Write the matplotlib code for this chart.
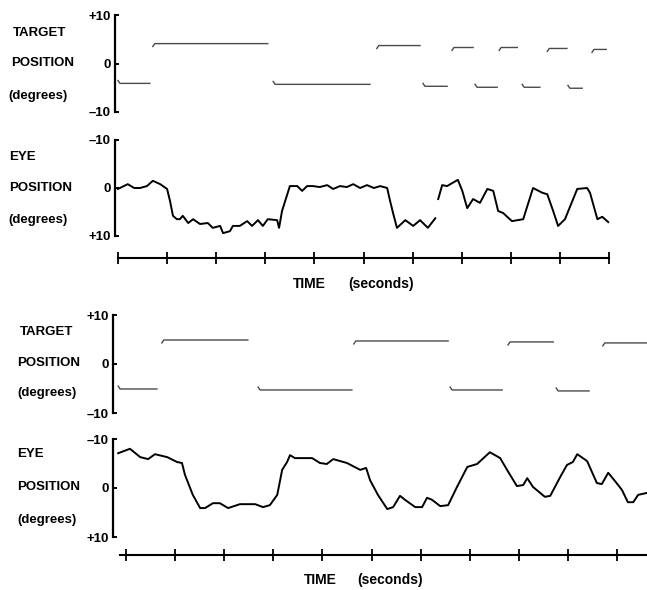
import numpy as np
import matplotlib
matplotlib.use("Agg")
import matplotlib.pyplot as plt

# ---- data (time in seconds, position in degrees) ----
# top record: target steps
tgt1_start = [0.00, 0.71, 3.16, 5.27, 6.21, 6.80, 7.27, 7.76, 8.23, 8.74, 9.16, 9.65]
tgt1_end = [0.65, 3.05, 5.13, 6.15, 6.70, 7.23, 7.72, 8.13, 8.59, 9.14, 9.45, 9.94]
tgt1_level = [-4.1, 4.1, -4.3, 3.7, -4.7, 3.3, -4.9, 3.3, -4.9, 3.1, -5.1, 2.9]

# top record: eye trace (nan = pen gap)
eye1_t = [0.00, 0.04, 0.20, 0.33, 0.45, 0.59, 0.71, 0.86, 1.00, 1.06, 1.12, 1.20, 1.26,
          1.32, 1.43, 1.53, 1.67, 1.83, 1.93, 2.08, 2.14, 2.28, 2.34, 2.48, 2.63, 2.73,
          2.85, 2.95, 3.05, 3.24, 3.28, 3.34, 3.50, 3.65, 3.75, 3.85, 3.97, 4.11, 4.26,
          4.38, 4.52, 4.66, 4.79, 4.93, 5.07, 5.21, 5.34, 5.48, 5.54, 5.60, 5.68, 5.85,
          6.01, 6.15, 6.31, 6.46, 6.49, 6.52, 6.60, 6.70, 6.80, 6.92, 7.01, 7.11, 7.23,
          7.37, 7.52, 7.64, 7.74, 7.84, 8.02, 8.25, 8.45, 8.64, 8.74, 8.86, 8.96, 9.10,
          9.35, 9.55, 9.61, 9.76, 9.86, 9.98]
eye1_deg = [0.2, 0.0, -0.8, 0.0, 0.0, -0.4, -1.5, -0.8, 0.2, 2.7, 5.8, 6.5, 6.5,
            5.8, 7.3, 6.5, 7.5, 7.3, 8.3, 7.9, 9.4, 9.0, 7.9, 7.9, 6.9, 7.9,
            6.7, 7.9, 6.5, 6.7, 8.3, 4.8, -0.4, -0.4, 0.6, -0.4, -0.4, -0.2, -0.6,
            0.2, -0.4, -0.2, -0.8, 0.0, -0.6, 0.0, -0.4, 0.0, 2.7, 5.2, 8.3, 6.7,
            7.9, 6.7, 8.3, 6.3, np.nan, 2.3, -0.6, -0.4, -1.0, -1.7, 0.6, 4.2, 2.3,
            3.1, 0.2, 0.6, 4.8, 5.2, 6.9, 6.5, 0.0, 1.0, 1.3, 4.8, 7.9, 6.5,
            0.2, 0.0, 1.0, 6.5, 6.0, 7.1]

# bottom record: target steps
tgt2_start = [-0.16, 0.73, 2.69, 4.64, 6.60, 7.78, 8.76, 9.71]
tgt2_end = [0.63, 2.48, 4.60, 6.56, 7.66, 8.70, 9.43, 10.61]
tgt2_level = [-5.1, 4.9, -5.3, 4.7, -5.3, 4.5, -5.5, 4.3]

# bottom record: eye trace
eye2_t = [-0.16, 0.08, 0.29, 0.45, 0.59, 0.84, 1.04, 1.14, 1.20, 1.36, 1.51, 1.61, 1.77,
          1.91, 2.08, 2.32, 2.63, 2.79, 2.93, 3.08, 3.18, 3.28, 3.34, 3.44, 3.79, 3.95,
          4.09, 4.22, 4.50, 4.77, 4.89, 4.97, 5.13, 5.32, 5.44, 5.58, 5.68, 5.89, 6.03,
          6.13, 6.23, 6.40, 6.56, 6.74, 6.95, 7.15, 7.41, 7.62, 7.76, 7.96, 8.09, 8.17,
          8.29, 8.53, 8.64, 8.84, 8.98, 9.10, 9.19, 9.39, 9.59, 9.69, 9.82, 9.96, 10.10,
          10.22, 10.33, 10.43, 10.61]
eye2_deg = [-7.1, -8.0, -6.3, -5.9, -6.9, -6.3, -5.3, -5.1, -2.7, 1.4, 4.1, 4.1, 3.1,
            3.1, 4.1, 3.3, 3.3, 3.9, 3.5, 1.4, -3.7, -5.3, -6.7, -6.1, -6.1, -5.1,
            -4.9, -5.9, -5.1, -3.7, -4.1, -1.6, 1.4, 4.3, 3.9, 1.6, 2.4, 3.9, 3.9,
            2.0, 2.4, 3.7, 3.5, -0.2, -4.3, -4.9, -7.3, -6.1, -3.7, -0.4, -0.6, -2.0,
            -0.2, 1.8, 1.6, -2.2, -4.7, -5.3, -6.9, -5.5, -1.0, -0.8, -3.1, -1.4, 0.4,
            2.9, 2.9, 1.4, 1.0]

time_ticks = list(range(11))

# ---- figure, laid out in pixels of the 647x590 original ----
W, H = 647, 590
fig = plt.figure(figsize=(W / 100, H / 100), dpi=100)
plt.rcParams['font.family'] = ['Liberation Sans', 'DejaVu Sans']

def px_axes(x0, top, x1, bottom):
    return fig.add_axes([x0 / W, 1 - bottom / H, (x1 - x0) / W, (bottom - top) / H])

def px_text(x, y, s, size=9.5, **kw):
    fig.text(x / W, 1 - y / H, s, va='center', fontsize=size, fontweight='bold', **kw)

def pos_axes(ax, xlim, top_label, bottom_label, invert):
    ax.set_xlim(*xlim)
    if invert:
        ax.set_ylim(10, -10)
    else:
        ax.set_ylim(-10, 10)
    for s in ['top', 'right', 'bottom']:
        ax.spines[s].set_visible(False)
    ax.spines['left'].set_linewidth(1.6)
    ax.set_xticks([])
    ax.set_yticks([-10, 0, 10])
    labels = {-10: top_label if invert else bottom_label, 0: '0',
              10: bottom_label if invert else top_label}
    ax.set_yticklabels([labels[-10], labels[0], labels[10]],
                       fontsize=9.5, fontweight='bold')
    ax.tick_params(axis='y', direction='in', length=3, width=1.4, pad=3)
    ax.patch.set_visible(False)

def draw_target(ax, starts, ends, levels):
    for t0, t1, lv in zip(starts, ends, levels):
        hook = -0.6 if lv > 0 else 0.6
        ax.plot([t0, t0 + 0.04, t1], [lv + hook, lv, lv], color='#4a4a4a', lw=1.0)

def time_axis(xlim, bounds, y):
    ax = px_axes(xlim[2], y - 8, 647, y + 8)
    ax.set_xlim(xlim[0], xlim[1])
    ax.set_ylim(0, 1)
    for s in ['top', 'right', 'left']:
        ax.spines[s].set_visible(False)
    ax.spines['bottom'].set_position(('axes', 0.5))
    ax.spines['bottom'].set_bounds(*bounds)
    ax.spines['bottom'].set_linewidth(1.5)
    ax.set_yticks([])
    ax.set_xticks(time_ticks)
    ax.set_xticklabels([])
    ax.tick_params(axis='x', direction='inout', length=8, width=1.3)
    ax.patch.set_visible(False)

# ---- top record ----
xl1 = (-0.06, 10.77)
ax1 = px_axes(115, 15, 647, 112)
pos_axes(ax1, xl1, '+10', '\u201310', invert=False)
draw_target(ax1, tgt1_start, tgt1_end, tgt1_level)

ax2 = px_axes(115, 140, 647, 236)
pos_axes(ax2, xl1, '\u201310', '+10', invert=True)
ax2.plot(eye1_t, eye1_deg, color='black', lw=1.4)

time_axis((xl1[0], xl1[1], 115), (0, 10), 258)

px_text(13, 33, 'TARGET')
px_text(11, 63, 'POSITION')
px_text(8, 96, '(degrees)')
px_text(9, 157, 'EYE')
px_text(9, 188, 'POSITION')
px_text(8, 220, '(degrees)')
px_text(293, 284, 'TIME', size=10)
px_text(348, 284, '(seconds)', size=10)

# ---- bottom record ----
xl2 = (-0.265, 10.61)
ax3 = px_axes(113, 315, 647, 413)
pos_axes(ax3, xl2, '+10', '\u201310', invert=False)
draw_target(ax3, tgt2_start, tgt2_end, tgt2_level)

ax4 = px_axes(113, 439, 647, 537)
pos_axes(ax4, xl2, '\u201310', '+10', invert=True)
ax4.plot(eye2_t, eye2_deg, color='black', lw=1.4)

time_axis((xl2[0], xl2[1], 113), (-0.12, 10.61), 555)

px_text(20, 332, 'TARGET')
px_text(17, 363, 'POSITION')
px_text(17, 393, '(degrees)')
px_text(17, 454, 'EYE')
px_text(17, 487, 'POSITION')
px_text(17, 520, '(degrees)')
px_text(304, 580, 'TIME', size=10)
px_text(357, 580, '(seconds)', size=10)

fig.savefig('out.png', dpi=100)
